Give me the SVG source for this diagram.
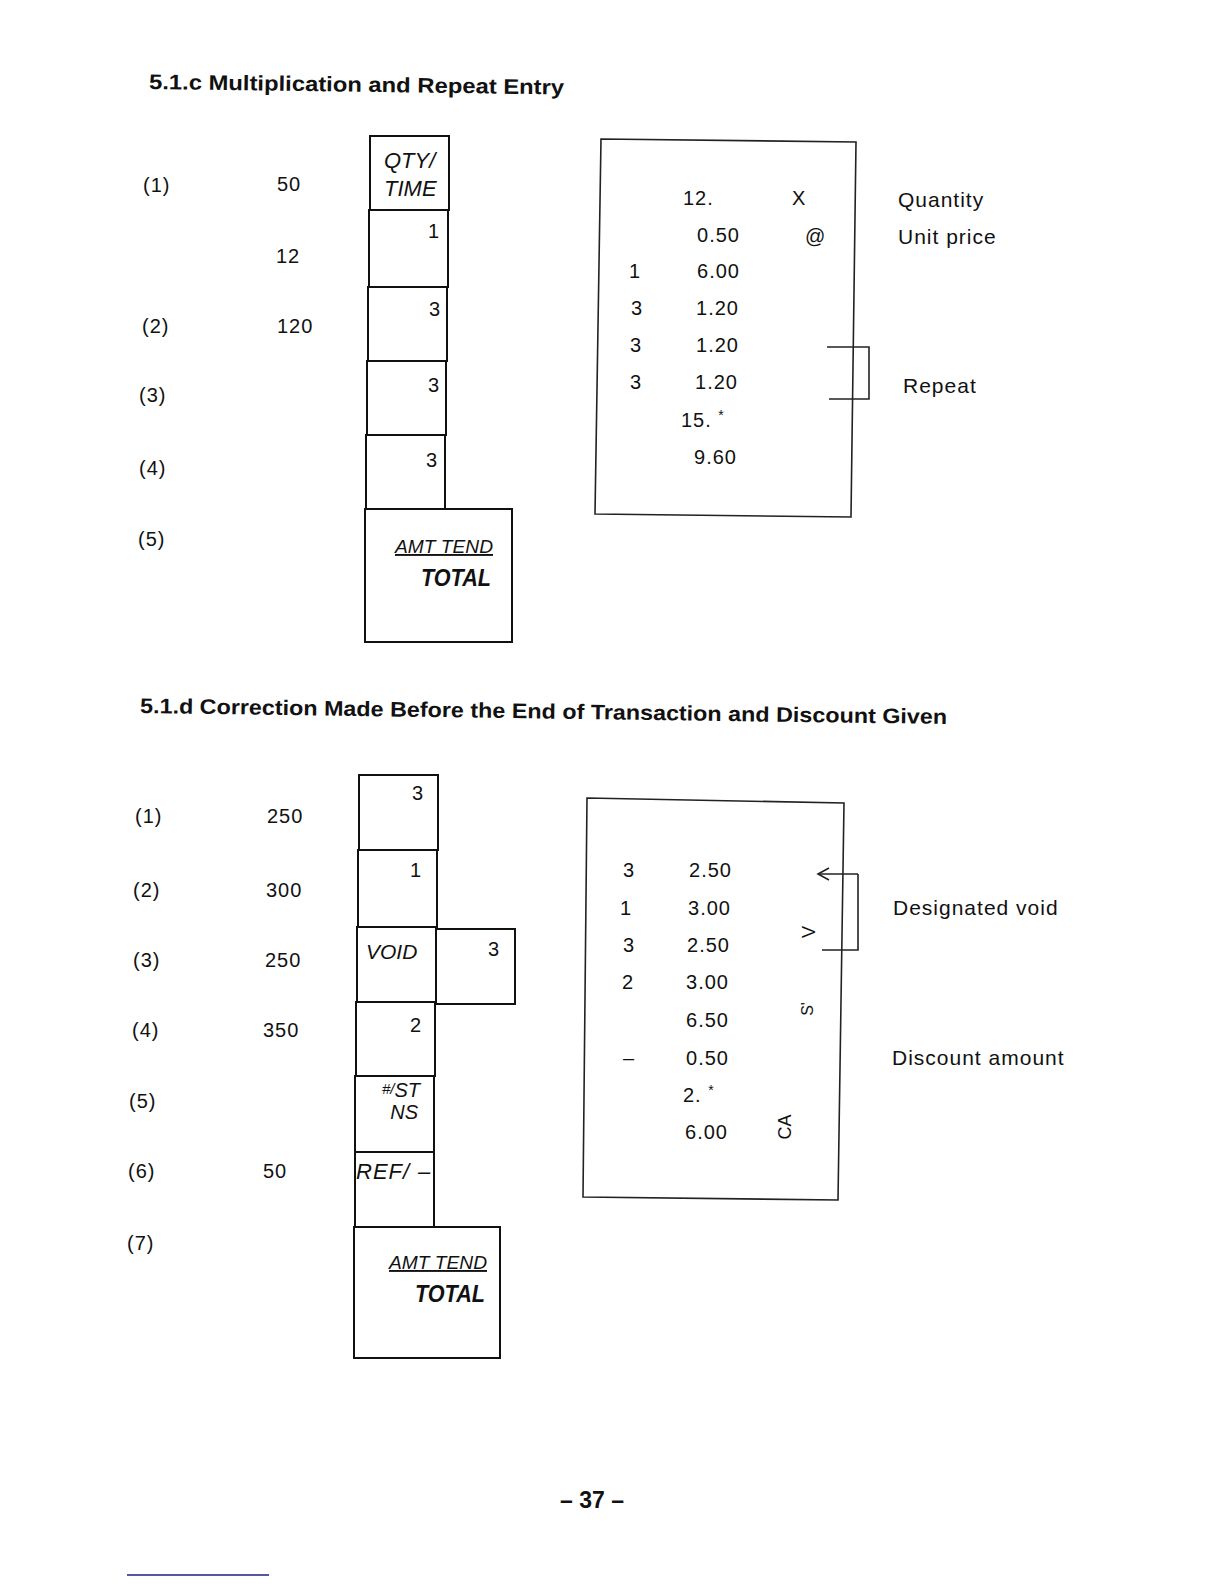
<svg xmlns="http://www.w3.org/2000/svg" width="1224" height="1584" viewBox="0 0 1224 1584">
<style>
.bg{fill:#fff}
.k{fill:none;stroke:#111;stroke-width:2}
.r{fill:none;stroke:#222;stroke-width:1.6}
.c{fill:none;stroke:#222;stroke-width:1.6}
text{font-family:"Liberation Sans",Arial,sans-serif;fill:#111}
.t{font-size:20px;letter-spacing:1px}
.n{font-size:20px}
.l{font-size:21px;letter-spacing:1px}
.i{font-style:italic;font-size:21px}
.h{font-weight:bold;font-size:21px}
.tot{font-weight:bold;font-style:italic;font-size:23px}
.amt{font-style:italic;font-size:19px;text-decoration:underline}
.end{text-anchor:end}
.mid{text-anchor:middle}
</style>
<rect class="bg" x="0" y="0" width="1224" height="1584"/>

<!-- Titles -->
<g id="title-c">
<text class="h" x="149" y="89" textLength="415" lengthAdjust="spacingAndGlyphs" transform="rotate(0.75 149 89)">5.1.c  Multiplication and Repeat Entry</text>
</g>
<g id="title-d">
<text class="h" x="140" y="713" textLength="807" lengthAdjust="spacingAndGlyphs" transform="rotate(0.78 140 713)">5.1.d Correction Made Before the End of Transaction and Discount Given</text>
</g>

<!-- Section c: step labels -->
<g id="steps-c">
<text class="t" x="143" y="192">(1)</text>
<text class="t" x="277" y="191">50</text>
<text class="t" x="276" y="263">12</text>
<text class="t" x="142" y="333">(2)</text>
<text class="t" x="277" y="333">120</text>
<text class="t" x="139" y="402">(3)</text>
<text class="t" x="139" y="475">(4)</text>
<text class="t" x="138" y="546">(5)</text>
</g>

<!-- Section c: keys -->
<g id="key-c-qty">
<rect class="k" x="370" y="136" width="79" height="74"/>
<text class="i" x="384" y="168" style="font-size:22px">QTY/</text>
<text class="i" x="384" y="196" style="font-size:22px">TIME</text>
</g>
<g id="key-c-1">
<rect class="k" x="369" y="210" width="79" height="77"/>
<text class="n end" x="439" y="238">1</text>
</g>
<g id="key-c-3a">
<rect class="k" x="368" y="287" width="79" height="74"/>
<text class="n end" x="440" y="316">3</text>
</g>
<g id="key-c-3b">
<rect class="k" x="367" y="361" width="79" height="74"/>
<text class="n end" x="439" y="392">3</text>
</g>
<g id="key-c-3c">
<rect class="k" x="366" y="435" width="79" height="74"/>
<text class="n end" x="437" y="467">3</text>
</g>
<g id="key-c-total">
<rect class="k" x="365" y="509" width="147" height="133"/>
<text class="amt end" x="493" y="553" textLength="98" lengthAdjust="spacingAndGlyphs">AMT TEND</text>
<text class="tot end" x="491" y="586" textLength="70" lengthAdjust="spacingAndGlyphs">TOTAL</text>
</g>

<!-- Section c: receipt -->
<g id="receipt-c">
<polygon class="r" points="601,139 856,142 851,517 595,514"/>
<text class="t" x="683" y="205">12.</text>
<text class="t" x="792" y="205">X</text>
<text class="t end" x="740" y="242">0.50</text>
<text class="t" x="805" y="243">@</text>
<text class="t end" x="641" y="278">1</text>
<text class="t end" x="740" y="278">6.00</text>
<text class="t end" x="643" y="315">3</text>
<text class="t end" x="739" y="315">1.20</text>
<text class="t end" x="642" y="352">3</text>
<text class="t end" x="739" y="352">1.20</text>
<text class="t end" x="642" y="389">3</text>
<text class="t end" x="738" y="389">1.20</text>
<text class="t" x="681" y="427">15. <tspan style="font-size:14px" dy="-7">*</tspan></text>
<text class="t end" x="737" y="464">9.60</text>
</g>
<g id="notes-c">
<text class="l" x="898" y="207">Quantity</text>
<text class="l" x="898" y="244">Unit price</text>
<text class="l" x="903" y="393">Repeat</text>
</g>

<!-- Section d: step labels -->
<g id="steps-d">
<text class="t" x="135" y="823">(1)</text>
<text class="t" x="267" y="823">250</text>
<text class="t" x="133" y="897">(2)</text>
<text class="t" x="266" y="897">300</text>
<text class="t" x="133" y="967">(3)</text>
<text class="t" x="265" y="967">250</text>
<text class="t" x="132" y="1037">(4)</text>
<text class="t" x="263" y="1037">350</text>
<text class="t" x="129" y="1108">(5)</text>
<text class="t" x="128" y="1178">(6)</text>
<text class="t" x="263" y="1178">50</text>
<text class="t" x="127" y="1250">(7)</text>
</g>

<!-- Section d: keys -->
<g id="key-d-3">
<rect class="k" x="359" y="775" width="79" height="75"/>
<text class="n end" x="423" y="800">3</text>
</g>
<g id="key-d-1">
<rect class="k" x="358" y="850" width="79" height="77"/>
<text class="n end" x="421" y="877">1</text>
</g>
<g id="key-d-void">
<rect class="k" x="357" y="927" width="79" height="75"/>
<text class="i" x="366" y="959">VOID</text>
</g>
<g id="key-d-void3">
<rect class="k" x="436" y="929" width="79" height="75"/>
<text class="n end" x="499" y="956">3</text>
</g>
<g id="key-d-2">
<rect class="k" x="356" y="1002" width="79" height="74"/>
<text class="n end" x="421" y="1032">2</text>
</g>
<g id="key-d-st">
<rect class="k" x="355" y="1076" width="79" height="76"/>
<text class="i end" x="420" y="1097" style="font-size:20px"><tspan style="font-size:15px" dy="-3">#/</tspan><tspan dy="3">ST</tspan></text>
<text class="i end" x="418" y="1119" style="font-size:20px">NS</text>
</g>
<g id="key-d-ref">
<rect class="k" x="355" y="1152" width="79" height="75"/>
<text class="i" x="356" y="1179" style="font-size:22px;letter-spacing:1px">REF/<tspan x="418">–</tspan></text>
</g>
<g id="key-d-total">
<rect class="k" x="354" y="1227" width="146" height="131"/>
<text class="amt end" x="487" y="1269" textLength="98" lengthAdjust="spacingAndGlyphs">AMT TEND</text>
<text class="tot end" x="485" y="1302" textLength="70" lengthAdjust="spacingAndGlyphs">TOTAL</text>
</g>

<!-- Section d: receipt -->
<g id="receipt-d">
<polygon class="r" points="587,798 844,803 838,1200 583,1197"/>
<text class="t end" x="635" y="877">3</text>
<text class="t end" x="732" y="877">2.50</text>
<text class="t end" x="632" y="915">1</text>
<text class="t end" x="731" y="915">3.00</text>
<text class="t end" x="635" y="952">3</text>
<text class="t end" x="730" y="952">2.50</text>
<text class="t end" x="634" y="989">2</text>
<text class="t end" x="729" y="989">3.00</text>
<text class="t end" x="729" y="1027">6.50</text>
<text class="t" x="623" y="1065">–</text>
<text class="t end" x="729" y="1065">0.50</text>
<text class="t" x="683" y="1102">2. <tspan style="font-size:14px" dy="-7">*</tspan></text>
<text class="t end" x="728" y="1139">6.00</text>
<text class="mid" style="font-size:18px" transform="translate(815 932) rotate(-90)">V</text>
<text class="mid" style="font-size:16px" transform="translate(813 1009) rotate(-90)">S'</text>
<text class="mid" style="font-size:18px" transform="translate(791 1127) rotate(-90)">CA</text>
</g>
<g id="notes-d">
<text class="l" x="893" y="915">Designated void</text>
<text class="l" x="892" y="1065">Discount amount</text>
</g>

<!-- Connectors: brackets and arrow -->
<g id="connectors">
<polyline class="c" points="827,347 869,347 869,399 829,399"/>
<line class="c" x1="858" y1="874" x2="818" y2="874"/>
<path class="c" d="M829,868 L818,874 L829,880"/>
<polyline class="c" points="858,874 858,950 822,950"/>
</g>

<!-- Page number -->
<g id="page-number">
<text style="font-weight:bold;font-size:23px" x="592" y="1508" text-anchor="middle">– 37 –</text>
</g>
<line x1="127" y1="1575" x2="269" y2="1575" stroke="#1c1c8c" stroke-width="1.5"/>
</svg>
